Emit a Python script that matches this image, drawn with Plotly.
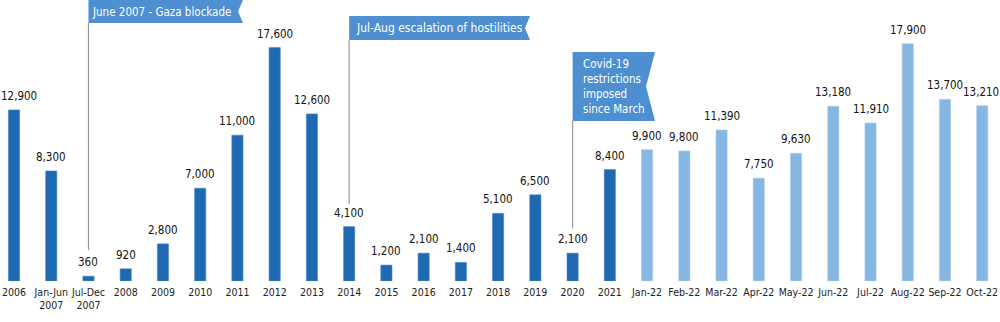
import plotly.graph_objects as go

# ---- data -------------------------------------------------------------
periods = ["2006", "Jan-Jun<br>2007", "Jul-Dec<br>2007", "2008", "2009", "2010",
           "2011", "2012", "2013", "2014", "2015", "2016", "2017", "2018",
           "2019", "2020", "2021"]
period_values = [12900, 8300, 360, 920, 2800, 7000, 11000, 17600, 12600, 4100,
                 1200, 2100, 1400, 5100, 6500, 2100, 8400]

months = ["Jan-22", "Feb-22", "Mar-22", "Apr-22", "May-22", "Jun-22", "Jul-22",
          "Aug-22", "Sep-22", "Oct-22"]
month_values = [9900, 9800, 11390, 7750, 9630, 13180, 11910, 17900, 13700, 13210]

events = [
    {"at": "Jul-Dec<br>2007", "text": "June 2007 - Gaza blockade"},
    {"at": "2014", "text": "Jul-Aug escalation of hostilities"},
    {"at": "2020", "text": "Covid-19<br>restrictions<br>imposed<br>since March"},
]

# ---- styling / geometry ----------------------------------------------
W, H = 1000, 322
BOTTOM = 41                 # pixels below the baseline for tick labels
STEP = 37.24                # pixels per category
X0 = 14.0                   # pixel centre of the first category
YSCALE = 0.01326            # pixels per unit
DARK = "#1f69b3"
LIGHT = "#86b6e2"
BANNER = "#4e8fd1"
FONT = "DejaVu Sans Condensed, Roboto, sans-serif"
VAL_SIZE = 11.5

labels = periods + months
values = period_values + month_values
idx = list(range(len(labels)))
n_p = len(periods)

plot_h = H - BOTTOM
x_range = [(0 - X0) / STEP, (W - X0) / STEP]
y_range = [0, plot_h / YSCALE]


def px_x(px):
    return (px - X0) / STEP


def px_y(py):
    return (plot_h - py) / YSCALE


fig = go.Figure()
fig.add_bar(x=idx[:n_p], y=period_values, marker_color=DARK,
            marker_line=dict(color="#4a86c4", width=0.6), width=0.30)
fig.add_bar(x=idx[n_p:], y=month_values, marker_color=LIGHT,
            marker_line=dict(color="#a9cbeb", width=0.6), width=0.30)

annotations = []
# value labels above each bar, nudged inward if they would run off the page
for i, v in zip(idx, values):
    txt = f"{v:,}"
    est_w = VAL_SIZE * (0.575 * sum(c.isdigit() for c in txt) + 0.3 * txt.count(","))
    cx = X0 + i * STEP
    shift = 0
    if cx - est_w / 2 < 1:
        shift = 1 - (cx - est_w / 2)
    elif cx + est_w / 2 > W - 1:
        shift = (W - 1) - (cx + est_w / 2)
    annotations.append(dict(x=i, y=v, xref="x", yref="y", text=txt,
                            showarrow=False, xanchor="center", yanchor="bottom",
                            yshift=5, xshift=shift,
                            font=dict(family=FONT, size=VAL_SIZE, color="#111")))

# banners: (top px, bottom px, right px, notch depth px, text pad px, font size, gap px)
banner_geo = [
    (0, 23, 243, 5, 2, 11.5, 26),
    (16, 40, 530, 5, 5, 12, 23),
    (52, 121, 655, 9, 8, 11.5, 25),
]

shapes = []
for ev, (top, bot, right, notch, pad, fs, gap) in zip(events, banner_geo):
    i = labels.index(ev["at"])
    v = values[i]
    left_px = X0 + i * STEP
    xl, xr = i, px_x(right)
    xn = px_x(right - notch)
    yt, yb = px_y(top), px_y(bot)
    ym = (yt + yb) / 2
    shapes.append(dict(type="path", xref="x", yref="y",
                       path=f"M {xl},{yt} L {xr},{yt} L {xn},{ym} L {xr},{yb} L {xl},{yb} Z",
                       fillcolor=BANNER, line=dict(width=0), layer="above"))
    # leader line from banner down to just above the value label
    shapes.append(dict(type="line", xref="x", yref="y",
                       x0=i, x1=i, y0=yb, y1=v + gap / YSCALE,
                       line=dict(color="#9a9a9a", width=1.2)))
    annotations.append(dict(x=px_x(left_px + pad), y=ym, xref="x", yref="y",
                            text=ev["text"], showarrow=False,
                            xanchor="left", yanchor="middle", align="left",
                            font=dict(family=FONT, size=fs, color="white")))

fig.update_layout(
    width=W, height=H,
    margin=dict(l=0, r=0, t=0, b=BOTTOM),
    paper_bgcolor="white", plot_bgcolor="white",
    showlegend=False, barmode="overlay",
    shapes=shapes, annotations=annotations,
    xaxis=dict(range=x_range, tickmode="array", tickvals=idx, ticktext=labels,
               showgrid=False, zeroline=False, showline=False, ticks="",
               tickangle=0, ticklabelstandoff=3,
               tickfont=dict(family=FONT, size=10.5, color="#222")),
    yaxis=dict(range=y_range, visible=False, showgrid=False),
)

fig.write_html("out.html")
